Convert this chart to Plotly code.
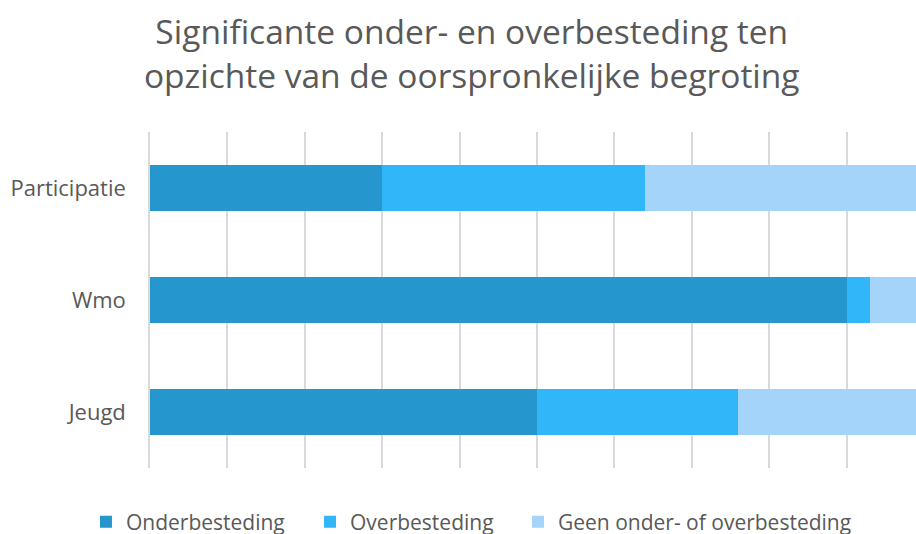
import plotly.graph_objects as go

categories = ["Participatie", "Wmo", "Jeugd"]
onderbesteding = [30, 90, 50]
overbesteding = [34, 3, 26]
geen = [36, 7, 24]
series_names = ["Onderbesteding", "Overbesteding", "Geen onder- of overbesteding"]
colors = ["#2596CE", "#31B7F9", "#A5D4FA"]
legend_ids = ["legend", "legend2", "legend3"]
legend_x = [-0.0836, 0.2089, 0.4804]

FONT = "Open Sans"

fig = go.Figure()
for name, vals, col, lg in zip(series_names, [onderbesteding, overbesteding, geen], colors, legend_ids):
    fig.add_trace(go.Bar(
        y=categories, x=vals, name=name, orientation="h",
        marker=dict(color=col, line=dict(width=0)), width=0.405,
        legend=lg,
    ))

legend_style = dict(
    orientation="h", xanchor="left", yref="container", y=0.0225, yanchor="middle",
    font=dict(size=21, color="#595959", family=FONT), bgcolor="rgba(0,0,0,0)",
)

fig.update_layout(
    width=916, height=534,
    barmode="stack",
    paper_bgcolor="white", plot_bgcolor="white",
    margin=dict(l=150, r=0, t=132, b=66, autoexpand=False),
    font=dict(family=FONT, color="#595959"),
    title=dict(
        text="Significante onder- en overbesteding ten<br>opzichte van de oorspronkelijke begroting",
        x=0.515, xref="container", xanchor="center",
        y=0.9175, yref="container", yanchor="top",
        font=dict(size=33.5, color="#595959", family=FONT),
    ),
    legend=dict(x=legend_x[0], **legend_style),
    legend2=dict(x=legend_x[1], **legend_style),
    legend3=dict(x=legend_x[2], **legend_style),
    showlegend=True,
)
fig.update_xaxes(
    range=[0, 98.97], dtick=10, showticklabels=False, ticks="",
    showgrid=True, gridcolor="#D9D9D9", gridwidth=1.5, zeroline=False,
    showline=False,
)
fig.update_yaxes(
    categoryorder="array", categoryarray=categories[::-1],
    ticks="", ticklabelstandoff=18, tickfont=dict(size=22, color="#595959", family=FONT),
    showline=True, linecolor="#D9D9D9", linewidth=1.5, showgrid=False,
)

fig.write_html(
    "out.html",
    config={"displayModeBar": False},
    post_script="document.body.style.margin='0';document.body.style.overflow='hidden';",
)
